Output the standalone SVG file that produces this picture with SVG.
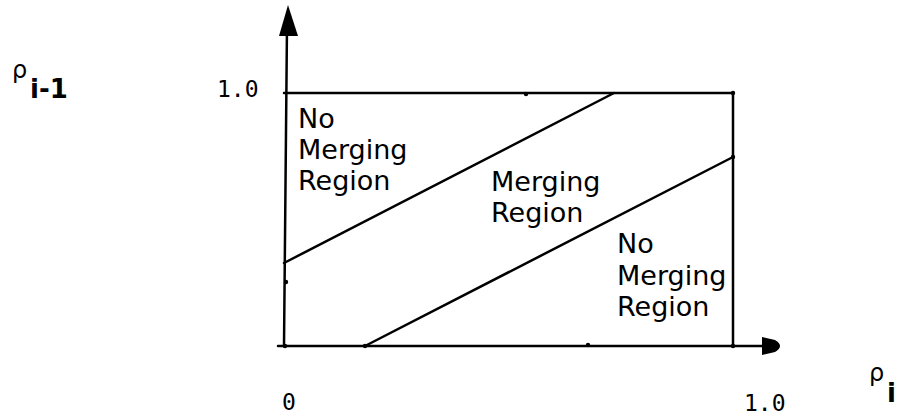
<svg xmlns="http://www.w3.org/2000/svg" width="898" height="418" viewBox="0 0 898 418">
<style>
.ln{stroke:#000;stroke-width:2.5;fill:none;stroke-linecap:round}
.t{font-family:"DejaVu Sans",sans-serif;font-size:27px;fill:#000}
.n{font-family:"DejaVu Sans Mono",monospace;font-size:23px;fill:#000}
.s{font-family:"DejaVu Sans",sans-serif;font-size:24px;fill:#000}
.sb{font-family:"DejaVu Sans",sans-serif;font-size:26px;font-weight:bold;fill:#000}
</style>
<rect width="898" height="418" fill="#fff"/>
<g id="connectors">
<line class="ln" x1="284" y1="346" x2="287" y2="25"/>
<polygon points="288,5 279,36 298,36" fill="#000"/>
<line class="ln" x1="278" y1="346" x2="765" y2="346"/>
<path d="M762,337 L775,340 Q785,346 775,352 L762,355 Z" fill="#000"/>
<line class="ln" x1="284" y1="93" x2="733" y2="93"/>
<line class="ln" x1="733" y1="93" x2="733" y2="346"/>
<line class="ln" x1="284" y1="263" x2="614" y2="93"/>
<line class="ln" x1="365" y1="346" x2="733" y2="157"/>
<circle cx="526" cy="94" r="2.2"/>
<circle cx="286" cy="282" r="2.2"/>
<circle cx="588" cy="345" r="2.2"/>
<circle cx="733" cy="93" r="2.2"/>
<circle cx="733" cy="157" r="2.2"/>
<circle cx="733" cy="346" r="2.2"/>
<circle cx="365" cy="346" r="2.2"/>
<circle cx="285" cy="346" r="2.2"/>
</g>
<g id="region-upper">
<text class="t" x="298" y="128">No</text>
<text class="t" x="298" y="159">Merging</text>
<text class="t" x="298" y="190">Region</text>
</g>
<g id="region-middle">
<text class="t" x="491" y="191">Merging</text>
<text class="t" x="491" y="222">Region</text>
</g>
<g id="region-lower">
<text class="t" x="617" y="253">No</text>
<text class="t" x="617" y="285">Merging</text>
<text class="t" x="617" y="316">Region</text>
</g>
<g id="labels">
<text class="s" x="12" y="78">ρ</text>
<text class="sb" x="30" y="98">i-1</text>
<text class="n" x="217" y="97">1.0</text>
<text class="n" x="282" y="410">0</text>
<text class="n" x="744" y="411">1.0</text>
<text class="s" x="869" y="381">ρ</text>
<text class="sb" x="887" y="402">i</text>
</g>
</svg>
